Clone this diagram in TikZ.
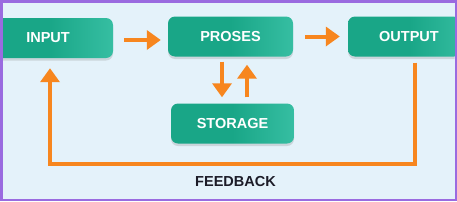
\documentclass[tikz,border=0pt]{standalone}
\usepackage{fontspec}
\setmainfont{Liberation Sans}
\usetikzlibrary{shadows,arrows.meta}
\definecolor{bgblue}{HTML}{E4F2FA}
\definecolor{frame}{HTML}{9A6BE0}
\definecolor{teal1}{HTML}{19A687}
\definecolor{teal2}{HTML}{36BEA2}
\definecolor{orng}{HTML}{F7861E}
\definecolor{txtdark}{HTML}{1C1C28}
\tikzset{
  box/.style={rounded corners=7pt, minimum height=40pt, inner sep=0pt,
    left color=teal1, right color=teal2, middle color=teal1,
    drop shadow={shadow xshift=0pt, shadow yshift=-2.5pt, opacity=0.25},
    text=white, font=\fontsize{14.5}{16}\selectfont\bfseries},
  flow/.style={draw=orng, line width=4pt, -{Triangle[length=14pt,width=19pt]}},
}
\begin{document}
\begin{tikzpicture}[x=1pt,y=1pt]
\useasboundingbox (0,0) rectangle (457,-201);
\fill[bgblue] (0,0) rectangle (457,-201);
\begin{scope}
\clip (2.5,-2.5) rectangle (454.5,-198.5);
\node[box, minimum width=130pt] (input) at (48,-38) {INPUT};
\node[box, minimum width=125pt] (proses) at (230.5,-36.5) {PROSES};
\node[box, minimum width=122pt] (output) at (409,-36.5) {OUTPUT};
\node[box, minimum width=123pt] (storage) at (232.5,-123.5) {STORAGE};
\end{scope}
\node[text=txtdark, font=\fontsize{14.5}{16}\selectfont\bfseries] (fb) at (235.5,-182) {FEEDBACK};
\draw[flow] (input.east |- 0,-40) ++(11,0) coordinate (a1) (a1) -- ([xshift=-7pt]proses.west |- a1);
\draw[flow] ([xshift=12pt]proses.east) -- ([xshift=-8pt]output.west);
\draw[flow] ([xshift=-8.5pt,yshift=-5pt]proses.south) -- ([xshift=-10.5pt,yshift=6pt]storage.north);
\draw[flow] ([xshift=14.5pt,yshift=6pt]storage.north) -- ([xshift=16.5pt,yshift=-8pt]proses.south);
\coordinate (c1) at (415,-164);
\coordinate (c2) at (50,-164);
\draw[flow] ([yshift=-6pt]output.south -| c1) -- (c1) -- (c2) -- ([yshift=-10pt]input.south -| c2);
\draw[frame, line width=2.5pt] (1.25,-1.25) rectangle (455.75,-199.75);
\end{tikzpicture}
\end{document}
